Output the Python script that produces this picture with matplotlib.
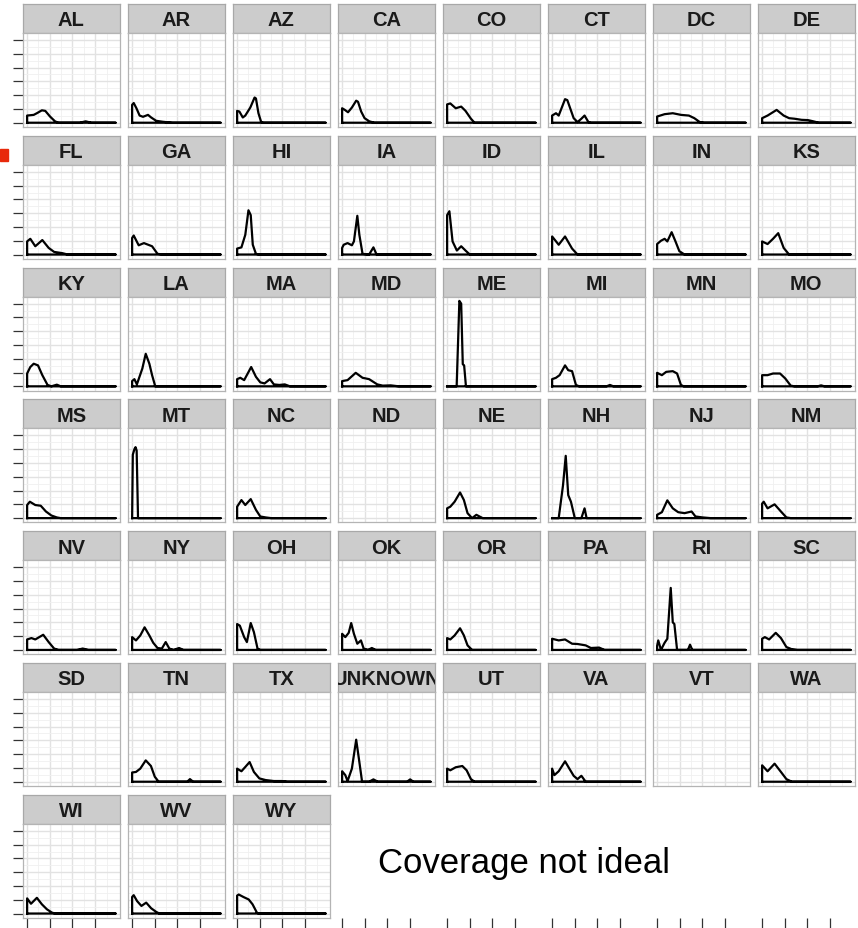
import matplotlib
matplotlib.use('Agg')
import matplotlib.pyplot as plt
from matplotlib.patches import Rectangle


# density outlines: (x, density) pairs per state
AL = [(0, .52), (.29, .57), (.43, .69), (.65, .9), (.8, .86), (1.01, .45), (1.23, .1), (1.38, 0), (2.32, 0), (2.58, .1), (2.83, 0)]
AR = [(0, 1.3), (.07, 1.43), (.19, 1.05), (.33, .52), (.48, .43), (.7, .57), (.84, .38), (1.06, .14), (1.35, .07), (1.64, .02), (1.78, 0)]
AZ = [(0, .86), (.1, .81), (.25, .38), (.36, .52), (.58, 1.1), (.77, 1.83), (.83, 1.76), (.94, .69), (1.06, .05), (1.16, 0)]
CA = [(0, 1.05), (.12, .93), (.26, .76), (.43, 1.1), (.62, 1.6), (.7, 1.52), (.84, .81), (.99, .33), (1.2, .1), (1.42, 0)]
CO = [(0, 1.33), (.14, 1.4), (.38, 1.05), (.62, 1.17), (.81, .86), (1.05, .29), (1.21, 0)]
CT = [(0, .52), (.17, .69), (.29, .52), (.57, 1.71), (.67, 1.64), (.95, .33), (1.12, .05), (1.29, .29), (1.43, .52), (1.6, .05), (1.71, 0)]
DC = [(0, .45), (.33, .62), (.69, .69), (1.05, .57), (1.4, .52), (1.64, .33), (1.88, .05), (2.07, 0)]
DE = [(0, .33), (.24, .52), (.64, .93), (.95, .52), (1.19, .33), (1.43, .29), (1.74, .21), (2.02, .19), (2.26, .1), (2.5, 0)]
FL = [(0, .95), (.14, 1.14), (.36, .6), (.67, 1.05), (.95, .48), (1.19, .19), (1.55, .1), (1.79, 0)]
GA = [(0, 1.2), (.07, 1.38), (.29, .67), (.52, .83), (.88, .6), (1.12, .05), (1.36, 0)]
HI = [(0, .43), (.19, .52), (.36, 1.43), (.5, 3.21), (.6, 2.86), (.69, .71), (.83, .05), (.98, 0)]
IA = [(0, .48), (.07, .71), (.24, .83), (.43, .67), (.52, .95), (.67, 2.81), (.76, 1.43), (.9, .05), (1.19, 0), (1.38, .52), (1.52, 0)]
ID = [(0, 2.86), (.1, 3.14), (.24, .95), (.43, .29), (.62, .6), (.81, .29), (1.0, 0)]
IL = [(0, 1.31), (.29, .71), (.57, 1.31), (.88, .43), (1.12, 0)]
IN = [(0, .76), (.17, 1.0), (.33, 1.14), (.45, .95), (.64, 1.62), (.81, .95), (.98, .24), (1.21, 0)]
KS = [(0, .95), (.24, .76), (.48, 1.14), (.71, 1.55), (.95, .48), (1.19, 0)]
KY = [(0, .93), (.14, 1.4), (.29, 1.64), (.48, 1.52), (.67, .81), (.9, .1), (1.07, 0), (1.31, .12), (1.48, 0)]
LA = [(0, .38), (.1, .52), (.21, .14), (.45, 1.29), (.6, 2.36), (.76, 1.64), (.88, .81), (1.02, 0)]
MA = [(0, .52), (.14, .62), (.31, .45), (.62, 1.4), (.83, .69), (1.02, .29), (1.21, .21), (1.45, .52), (1.62, .14), (1.86, .1), (2.1, .14), (2.33, 0)]
MD = [(0, .38), (.24, .45), (.6, .98), (.9, .62), (1.19, .52), (1.55, .14), (1.79, .05), (2.14, .07), (2.5, 0)]
ME = [(.42, 0), (.54, 6.2), (.62, 6.0), (.69, 1.6), (.75, 1.52), (.83, 0)]
MI = [(0, .52), (.17, .62), (.33, .81), (.57, 1.52), (.71, 1.17), (.88, 1.1), (1.05, .1), (1.19, 0), (2.4, 0), (2.55, .1), (2.7, 0)]
MN = [(0, .98), (.21, .81), (.4, 1.05), (.69, 1.1), (.88, .93), (1.05, .1), (1.17, 0)]
MO = [(0, .81), (.24, .81), (.48, .93), (.79, .93), (1.02, .57), (1.26, .05), (1.43, 0), (2.45, 0), (2.6, .07), (2.75, 0)]
MS = [(0, .95), (.12, 1.19), (.36, .95), (.6, .9), (.83, .48), (1.07, .19), (1.31, .05), (1.48, 0)]
MT = [(0, 0), (.03, 4.6), (.1, 5.0), (.15, 5.15), (.2, 4.9), (.26, 0)]
NC = [(0, .83), (.19, 1.31), (.36, .95), (.6, 1.38), (.83, .6), (1.02, .12), (1.26, .05), (1.5, 0)]
ND = []
NE = [(0, .71), (.14, .83), (.33, 1.19), (.57, 1.86), (.74, 1.31), (.9, .36), (1.1, 0), (1.29, .24), (1.45, .1), (1.57, 0)]
NH = [(.29, 0), (.48, 2.38), (.6, 4.52), (.71, 1.67), (.83, 1.19), (1.0, 0), (1.29, 0), (1.43, .71), (1.52, 0)]
NJ = [(0, .24), (.21, .43), (.45, 1.29), (.69, .71), (.93, .43), (1.21, .36), (1.52, .48), (1.69, .12), (2.0, .05), (2.36, 0)]
NM = [(0, 1.05), (.07, 1.19), (.24, .71), (.55, 1.0), (.83, .48), (1.07, .05), (1.26, 0)]
NV = [(0, .76), (.19, .86), (.36, .76), (.71, 1.1), (.95, .57), (1.19, .1), (1.38, 0), (2.2, 0), (2.45, .1), (2.7, 0)]
NY = [(0, .93), (.17, .69), (.36, 1.05), (.55, 1.64), (.76, 1.05), (.93, .52), (1.12, .14), (1.31, .1), (1.48, .57), (1.64, .1), (1.83, 0), (2.07, .14), (2.26, 0)]
OH = [(0, 1.88), (.12, 1.76), (.31, .93), (.43, .57), (.6, 1.95), (.74, 1.29), (.9, .1), (1.02, 0)]
OK = [(0, 1.17), (.14, .93), (.29, 1.24), (.4, 1.95), (.52, 1.17), (.67, .45), (.83, .69), (.95, .1), (1.14, 0), (1.31, .14), (1.48, 0)]
OR = [(0, .86), (.14, .76), (.33, 1.05), (.57, 1.57), (.74, 1.05), (.9, .33), (1.1, 0)]
PA = [(0, .81), (.29, .69), (.57, .76), (.88, .45), (1.12, .43), (1.48, .33), (1.71, .14), (2.07, .17), (2.31, 0)]
RI = [(0, .3), (.05, .69), (.17, 0), (.33, .52), (.45, .81), (.6, 4.5), (.69, 2.0), (.76, 1.88), (.88, 0), (1.36, 0), (1.45, .38), (1.55, 0)]
SC = [(0, .81), (.12, .93), (.31, .76), (.6, 1.24), (.83, .86), (1.07, .21), (1.31, .05), (1.55, 0)]
SD = []
TN = [(0, .67), (.17, .71), (.36, .95), (.6, 1.55), (.83, 1.14), (1.0, .36), (1.17, 0), (2.43, 0), (2.55, .19), (2.69, 0)]
TX = [(0, .95), (.19, .76), (.36, 1.07), (.55, 1.43), (.74, .71), (.98, .24), (1.26, .12), (1.62, .05), (1.98, .05), (2.21, 0)]
UNKNOWN = [(0, .76), (.14, .48), (.24, .05), (.43, .95), (.62, 3.05), (.76, 1.43), (.88, 0), (1.19, 0), (1.38, .17), (1.57, 0), (2.86, 0), (3.0, .17), (3.14, 0)]
UT = [(0, .95), (.14, .83), (.38, 1.05), (.67, 1.14), (.86, .83), (1.05, .19), (1.21, 0)]
VA = [(0, .95), (.1, .48), (.29, .76), (.57, 1.48), (.76, .95), (.95, .43), (1.12, .19), (1.29, .43), (1.48, 0)]
VT = []
WA = [(0, 1.19), (.24, .76), (.55, 1.31), (.83, .71), (1.07, .19), (1.31, 0)]
WI = [(0, 1.1), (.17, .71), (.43, 1.14), (.65, .67), (.87, .31), (1.09, .07), (1.23, 0)]
WV = [(0, 1.2), (.07, 1.33), (.22, .9), (.41, .55), (.62, .79), (.84, .38), (1.06, .12), (1.2, 0)]
WY = [(0, 1.3), (.07, 1.38), (.29, 1.19), (.51, 1.02), (.68, .67), (.87, .07), (.94, 0)]

states = ['AL', 'AR', 'AZ', 'CA', 'CO', 'CT', 'DC', 'DE',
          'FL', 'GA', 'HI', 'IA', 'ID', 'IL', 'IN', 'KS',
          'KY', 'LA', 'MA', 'MD', 'ME', 'MI', 'MN', 'MO',
          'MS', 'MT', 'NC', 'ND', 'NE', 'NH', 'NJ', 'NM',
          'NV', 'NY', 'OH', 'OK', 'OR', 'PA', 'RI', 'SC',
          'SD', 'TN', 'TX', 'UNKNOWN', 'UT', 'VA', 'VT', 'WA',
          'WI', 'WV', 'WY']
curves = [AL, AR, AZ, CA, CO, CT, DC, DE,
          FL, GA, HI, IA, ID, IL, IN, KS,
          KY, LA, MA, MD, ME, MI, MN, MO,
          MS, MT, NC, ND, NE, NH, NJ, NM,
          NV, NY, OH, OK, OR, PA, RI, SC,
          SD, TN, TX, UNKNOWN, UT, VA, VT, WA,
          WI, WV, WY]
x_end = 3.9  # right end of the density support
x_major = [0, 1, 2, 3]
x_minor = [0.5, 1.5, 2.5, 3.5]
y_major = [0, 1, 2, 3, 4, 5, 6]
y_minor = [0.5, 1.5, 2.5, 3.5, 4.5, 5.5]


## layout (pixels)
W, H = 858, 929
ncol = 8
left0, col_step, pw = 22.7, 105, 97.3
top0, row_step = 5, 131.8
strip_h, plot_h = 29, 94

strip_fill = '#CCCCCC'
strip_edge = '#A8A8A8'
panel_edge = '#B4B4B4'
tick_col = '#333333'
font = ['Liberation Sans', 'DejaVu Sans']

fig = plt.figure(figsize=(W / 100, H / 100), dpi=100)


def box(left, top, w, h):
    return [left / W, 1 - (top + h) / H, w / W, h / H]


def style_panel(ax):
    ax.set_xlim(-0.195, x_end + 0.195)
    ax.set_ylim(-0.31, 6.51)
    ax.set_xticks(x_major)
    ax.set_xticks(x_minor, minor=True)
    ax.set_yticks(y_major)
    ax.set_yticks(y_minor, minor=True)
    ax.grid(which='major', color='#E2E2E2', lw=1.0)
    ax.grid(which='minor', color='#F0F0F0', lw=0.6)
    ax.set_axisbelow(True)
    ax.tick_params(which='both', labelleft=False, labelbottom=False,
                   left=False, bottom=False)
    ax.tick_params(which='major', length=7, width=0.9, color=tick_col, direction='out')
    for s in ax.spines.values():
        s.set_color(panel_edge)
        s.set_linewidth(0.9)


nrows = (len(states) + ncol - 1) // ncol

for i, (st, pts) in enumerate(zip(states, curves)):
    r, c = divmod(i, ncol)
    left = left0 + c * col_step
    top = top0 + r * row_step

    # strip
    sax = fig.add_axes(box(left, top, pw, strip_h))
    sax.set_facecolor(strip_fill)
    sax.set_xticks([])
    sax.set_yticks([])
    for s in sax.spines.values():
        s.set_color(strip_edge)
        s.set_linewidth(0.9)
    sax.text(0.5, 0.45, st, ha='center', va='center', fontsize=14.5,
             fontweight='bold', family=font, color='#1A1A1A',
             transform=sax.transAxes, clip_on=True)

    # panel
    ax = fig.add_axes(box(left, top + strip_h, pw, plot_h))
    style_panel(ax)
    if c == 0:
        ax.tick_params(which='major', left=True)
    if r == nrows - 1:
        ax.tick_params(which='major', bottom=True)

    if pts:
        xs = [0] + [p[0] for p in pts] + [x_end, 0]
        ys = [0] + [p[1] for p in pts] + [0, 0]
        ax.plot(xs, ys, color='black', lw=1.6, solid_joinstyle='round')

# lone x ticks under the empty slots of the last row
for c in range(len(states) - (nrows - 1) * ncol, ncol):
    left = left0 + c * col_step
    top = top0 + (nrows - 1) * row_step + strip_h
    tax = fig.add_axes(box(left, top, pw, plot_h))
    style_panel(tax)
    tax.grid(False, which='both')
    tax.patch.set_visible(False)
    for s in tax.spines.values():
        s.set_visible(False)
    tax.tick_params(which='major', bottom=True)

fig.text(378 / W, 1 - 863 / H, 'Coverage not ideal', ha='left', va='center',
         fontsize=25, family=font, color='black')

fig.patches.append(Rectangle((0, 1 - 162 / H), 8 / W, 12 / H,
                             transform=fig.transFigure, color='#E8290B'))

fig.savefig('out.png', dpi=100)
